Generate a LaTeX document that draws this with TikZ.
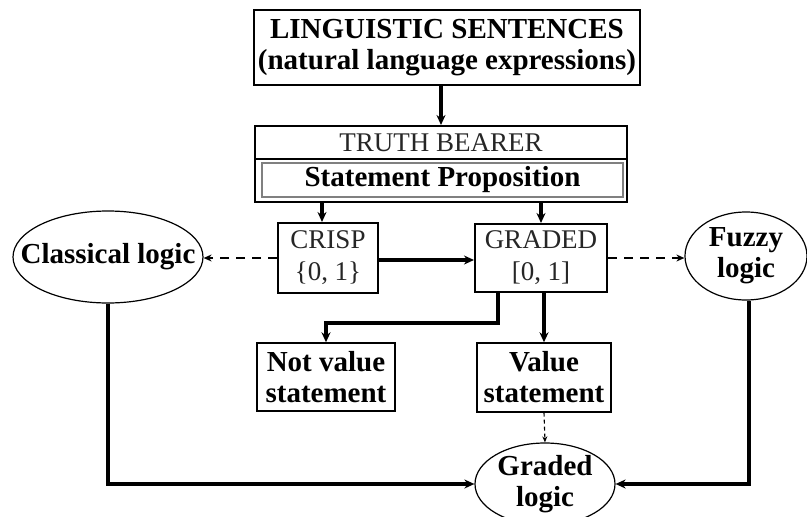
\documentclass[tikz,border=0pt]{standalone}
\usepackage{fontspec}
\setmainfont{Liberation Serif}
\usetikzlibrary{arrows.meta,shapes.geometric}
\definecolor{txtgray}{gray}{0.15}
\tikzset{
  box/.style={draw, line width=2pt, inner sep=0pt, align=center,
    font=\fontsize{29}{31}\selectfont\bfseries},
  thinbox/.style={box, line width=1.4pt},
  graybox/.style={box, font=\fontsize{27}{32}\selectfont, text=txtgray},
  oval/.style={ellipse, draw, line width=1.2pt, inner sep=0pt},
  ovaltext/.style={align=center, inner sep=0pt, font=\fontsize{29}{31}\selectfont\bfseries},
  conn/.style={line width=3.1pt, -{Stealth[length=10pt,width=9pt]}},
  dconn/.style={line width=1.9pt, dash pattern=on 9pt off 7pt, -{Stealth[length=8pt,width=7pt]}},
  sconn/.style={line width=1.1pt, dash pattern=on 4pt off 3pt, -{Stealth[length=6pt,width=5pt]}},
}
\begin{document}
\begin{tikzpicture}[x=1pt,y=-1pt]
\useasboundingbox (0,0) rectangle (807,517);

\node[box, minimum width=386pt, minimum height=75pt] (top) at (447,47.5)
  {LINGUISTIC SENTENCES\\(natural language expressions)};

\node[box, minimum width=372pt, minimum height=76pt] (tb) at (441,164) {};
\node[graybox, minimum width=372pt, minimum height=33pt] (tbh) at (441,142.5) {TRUTH BEARER};
\node[box, draw=gray, line width=1.4pt, minimum width=361pt, minimum height=34pt] (sp) at (442.5,180)
  {Statement Proposition};

\node[graybox, minimum width=100pt, minimum height=70pt] (crisp) at (328,258) {CRISP\\\{0, 1\}};
\node[graybox, minimum width=132pt, minimum height=68pt] (graded) at (541,258) {GRADED\\{[0, 1]}};

\node[oval, minimum width=190pt, minimum height=92pt] (classical) at (108,257) {};
\node[ovaltext] (classicalt) at (classical.center) {Classical logic};
\node[oval, minimum width=122pt, minimum height=88pt] (fuzzy) at (746,256) {};
\node[ovaltext] (fuzzyt) at (fuzzy.center) {Fuzzy\\logic};

\node[thinbox, minimum width=138pt, minimum height=68pt] (notval) at (326,377) {Not value\\statement};
\node[thinbox, minimum width=134pt, minimum height=69pt] (val) at (544,377.5) {Value\\statement};

\node[oval, minimum width=140pt, minimum height=82pt] (glogic) at (545,484) {};
\node[ovaltext] (glogict) at (glogic.center) {Graded\\logic};

\draw[conn] (top.south -| tb.north) -- (tb.north);
\draw[conn] ([xshift=-6pt]crisp.north |- tb.south) -- ([xshift=-6pt]crisp.north);
\draw[conn] (graded.north |- tb.south) -- (graded.north);
\draw[conn] ([yshift=-2pt]crisp.east) -- ([yshift=-2pt]graded.west);
\draw[dconn] (crisp.west) -- (crisp.west -| classical.east);
\draw[dconn] (graded.east) -- (graded.east -| fuzzy.west);
\draw[conn] ([xshift=-43pt]graded.south) -- ++(0,30) -| (notval.north);
\draw[conn] (val.north |- graded.south) -- (val.north);
\draw[sconn] (val.south) -- (glogic.north);
\draw[conn] (classical.south) |- (glogic.west);
\draw[conn] ([xshift=3pt]fuzzy.south) |- (glogic.east);
\end{tikzpicture}
\end{document}
